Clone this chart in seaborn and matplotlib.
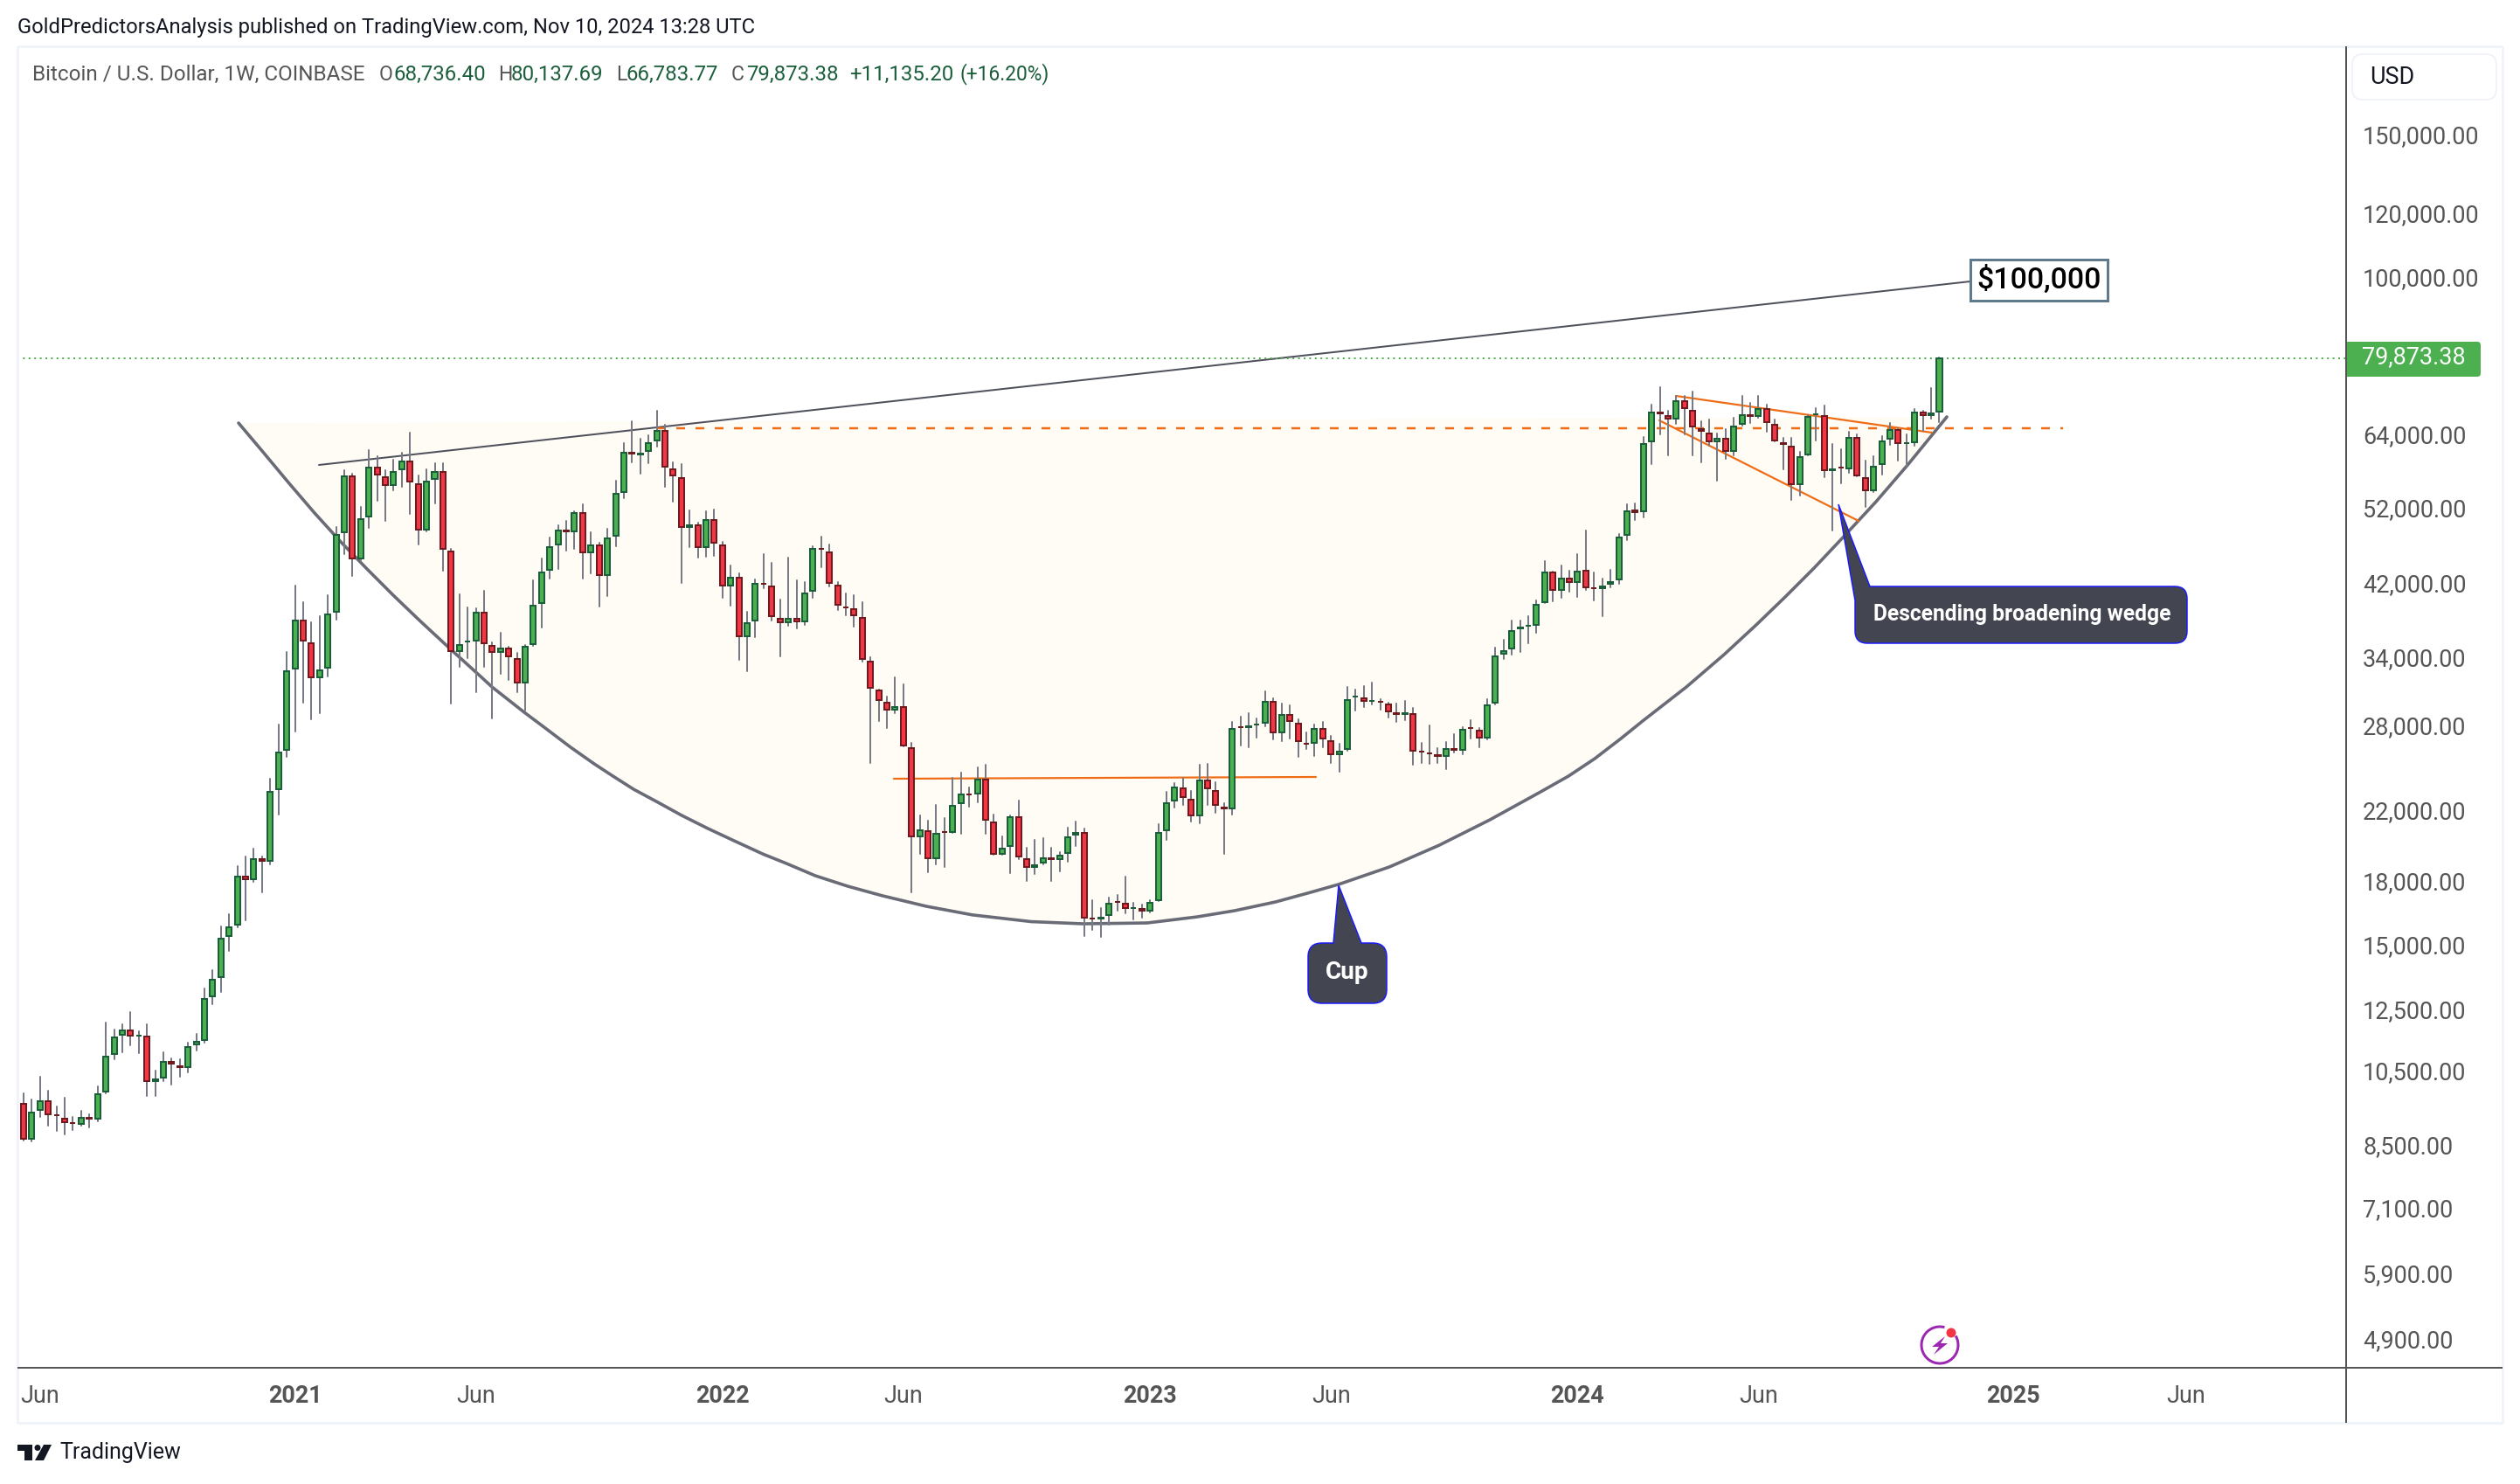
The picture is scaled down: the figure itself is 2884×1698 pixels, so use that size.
"""Bitcoin weekly candles with a cup-and-handle sketch, TradingView look."""
import matplotlib
matplotlib.use("Agg")
import matplotlib.pyplot as plt
import numpy as np
import pandas as pd
import seaborn as sns
from matplotlib.patches import Arc, Circle, FancyBboxPatch, PathPatch, Polygon
from matplotlib.path import Path
from matplotlib.transforms import ScaledTranslation

W, H = 2884, 1698

# ----------------------------------------------------------------------------- data
first_week = "2020-05-11"
candle_dir = (
    "GRGGRRRRGRGGGGRGRGGRRGGGGGGGRGRGGGGRRGGGGRGGRRGGRRGGR"
    "RGGGRRGRRGGGGGRGRGRGGGRGGGRRRGRGRRGRGGRRRGRGGRRRRRRR"
    "RRGRRGRGRGGRGRRGGRRGGRGGGRRGGRRGRGGGGRRGRRRGRGGGRGRRR"
    "GRRGGGRGRRRGRRRRGRGRRGG"
    "GGGGGGRGRGRRGGGGRGGRRGRR"
    "RRGRGGRGRRRRGGGRGRGRRGGGRGGRGG"
)
opens = [
    8712, 9606, 8712, 9450, 9675, 9306, 9204, 9103, 9080, 9230, 9210, 9947, 11070, 11700, 11830, 11660, 11630, 10250, 10350, 10840,
    10690, 10670, 11390, 11520, 13040, 13790, 15500, 15990, 18320, 18210, 19260, 19170, 23500, 26300, 33140, 37970, 35560, 32300, 33180, 38930,
    48830, 57170, 45280, 51040, 58570, 57000, 55840, 58360, 59660, 55880, 49180, 56800, 57900, 46190, 34770, 35760, 35820, 38850, 35320, 34710,
    35060, 34060, 31820, 35470, 39890, 43840, 47110, 49060, 48900, 51560, 46070, 47030, 43190, 48260, 54680, 61200, 60800, 61410, 63320, 65120,
    58330, 56900, 49510, 49760, 46760, 50510, 47000, 41920, 42870, 36300, 37960, 42170, 41820, 38150, 37770, 38150, 37860, 41270, 46570, 46070,
    41920, 39430, 39200, 38240, 33770, 31120, 30050, 29440, 29680, 26410, 20530, 20860, 19310, 20810, 20810, 22590, 23180, 23210, 24150, 21380,
    19560, 20000, 21710, 19270, 18840, 19080, 19310, 19270, 19600, 20650, 20760, 16270, 16270, 16430, 17060, 16970, 16750, 16720, 16640, 17140,
    20910, 22750, 23560, 22810, 21810, 24090, 23380, 22310, 22250, 28050, 28010, 28220, 28380, 30130, 27620, 29030, 28310, 26770, 26810, 27890,
    26940, 25930, 26350, 30590, 30430, 30220, 30100, 29900, 29150, 29070, 29100, 26160, 26030, 25870, 25810, 26350, 26280, 27980, 27760, 27210,
    30050, 34510, 35030, 37090, 37400, 37490, 39960, 43550, 41370, 42800, 42310, 43770, 41610, 41580, 42100, 42620, 48380, 51860, 51780, 63110,
    68610, 67930, 67320, 70860, 68950, 65450, 64640, 63160, 63680, 61460, 66320, 68100, 67880, 69240, 66270, 62850, 62220, 55920, 60850, 68190,
    67880, 58190, 58650, 58480, 63840, 56950, 54960, 59160, 63580, 65230, 62870, 63000, 68550, 68040, 68736.40,
]
highs = [
    9657, 9908, 9740, 10390, 9979, 9548, 9768, 9266, 9426, 9319, 10110, 12100, 11880, 12060, 12470, 11810, 12060, 10550, 11140, 10930,
    10920, 11440, 11710, 13330, 14070, 15930, 16460, 18900, 19420, 19870, 19390, 24220, 28260, 34740, 41880, 40010, 37740, 38450, 40820, 49550,
    58210, 57640, 52460, 61630, 60500, 58210, 59900, 61110, 64690, 57390, 58380, 59390, 59390, 46490, 40890, 39400, 39270, 41300, 35670, 36660,
    35230, 34620, 35380, 42550, 45280, 48060, 49760, 50380, 51780, 52820, 48780, 47310, 49270, 56480, 62850, 66820, 63630, 64270, 68890, 66210,
    59500, 59210, 51910, 50090, 51780, 52030, 47470, 44390, 43410, 38910, 42620, 45840, 44720, 40290, 45390, 42550, 42340, 46880, 48180, 47110,
    42340, 41030, 40790, 39990, 34200, 31220, 30580, 32300, 31660, 26790, 21810, 21490, 22470, 21650, 24270, 24640, 23620, 25010, 25190, 21870,
    20550, 21800, 22750, 19900, 20350, 20450, 19900, 19650, 21070, 21440, 21000, 17140, 16760, 17270, 17400, 18330, 17020, 16930, 17140, 21280,
    23330, 23910, 24270, 23380, 25190, 25260, 23970, 22590, 28450, 28880, 29170, 28740, 31040, 30430, 29980, 29830, 28670, 27620, 28240, 28450,
    27350, 26740, 31430, 31190, 31510, 31820, 30350, 30050, 29980, 30200, 29610, 26810, 28170, 26410, 26870, 27480, 28030, 28600, 27940, 30350,
    35140, 35940, 37960, 37960, 38430, 40190, 44940, 43660, 44390, 43730, 45840, 49020, 43510, 42760, 43840, 48540, 52820, 52950, 63950, 70100,
    73670, 68890, 71810, 71810, 72760, 66820, 67200, 64590, 65340, 67480, 71870, 70450, 71870, 70100, 67200, 63740, 63740, 61300, 68040, 69410,
    69930, 62690, 61760, 64910, 64430, 59800, 60550, 64110, 66540, 65560, 64430, 69240, 68890, 73490, 80137.69,
]
lows = [
    8690, 8653, 8629, 9266, 9032, 8891, 8803, 8916, 9032, 8993, 9135, 9894, 10900, 11120, 11360, 11090, 9824, 9824, 10240, 10140,
    10370, 10520, 11170, 11430, 12770, 13200, 14830, 15860, 16200, 18080, 17550, 18960, 21890, 25790, 27660, 30080, 28700, 29160, 32350, 38010,
    45810, 43030, 45040, 49340, 53290, 50340, 54910, 55460, 51350, 47070, 48850, 52910, 43770, 30000, 33300, 34140, 30990, 33300, 28760, 32650,
    32080, 30990, 29360, 35290, 37240, 42800, 43980, 46340, 46570, 42800, 43440, 39530, 40720, 46920, 53790, 59500, 57660, 59400, 62280, 55550,
    53250, 42270, 46800, 45430, 45540, 45650, 40520, 39630, 33970, 32890, 36210, 41640, 37990, 34310, 37430, 37150, 37520, 40520, 44170, 41850,
    39140, 38560, 37300, 33750, 25340, 28530, 27990, 29170, 26520, 17550, 19570, 18580, 19000, 18860, 20740, 20720, 22380, 22660, 20720, 19490,
    19490, 18530, 19280, 18120, 18480, 18970, 18120, 18620, 19140, 20010, 15500, 15770, 15460, 15980, 16650, 16530, 16230, 16330, 16540, 17090,
    20360, 22330, 22490, 21460, 21350, 22490, 21990, 19570, 21890, 26630, 26500, 27230, 28130, 27100, 26960, 27170, 25780, 26370, 25850, 26480,
    25340, 24720, 26240, 29410, 29710, 29930, 29490, 28830, 28480, 28620, 25210, 25340, 25280, 25340, 24900, 26110, 25980, 27170, 26500, 27100,
    29880, 34030, 34450, 34710, 35580, 36660, 39860, 40090, 40490, 41200, 40590, 41400, 40190, 38430, 41710, 42130, 47700, 50510, 50880, 59210,
    64430, 60700, 66380, 64430, 60700, 59550, 62380, 56530, 60150, 60750, 66100, 66490, 67600, 64960, 63110, 58330, 53520, 54190, 60650, 63370,
    57090, 49020, 56060, 57800, 57180, 52420, 54640, 57470, 62530, 59800, 58770, 62430, 65070, 67430, 66783.77,
]
closes = [
    9606, 8712, 9376, 9675, 9329, 9306, 9132, 9103, 9230, 9210, 9870, 10980, 11600, 11830, 11670, 11660, 10250, 10290, 10840, 10770,
    10670, 11290, 11450, 12940, 13660, 15360, 15870, 18320, 18210, 19260, 19170, 23320, 26060, 32830, 37970, 35840, 32300, 32920, 38620, 48380,
    57170, 45280, 50640, 58570, 57450, 55840, 57900, 59660, 56400, 49180, 56360, 57900, 46520, 34800, 35410, 35760, 38850, 35580, 34710, 35090,
    34280, 31820, 35230, 39630, 43550, 46800, 49060, 48860, 51560, 46070, 47030, 43190, 47980, 54460, 61200, 60950, 61050, 62850, 65120, 58770,
    57330, 49470, 49760, 46760, 50510, 47310, 41920, 42870, 36300, 37670, 42170, 42100, 38400, 37770, 38150, 37860, 40990, 46530, 46490, 42240,
    39690, 39430, 38530, 34030, 31350, 30250, 29440, 29680, 26610, 20530, 20910, 19310, 20700, 20810, 22420, 23150, 23180, 24150, 21540, 19560,
    19850, 21710, 19410, 18840, 18930, 19310, 19270, 19460, 20500, 20760, 16310, 16270, 16310, 16970, 17060, 16760, 16750, 16640, 17020, 20760,
    22590, 23620, 22980, 21810, 24090, 23560, 22470, 22250, 27890, 28050, 28080, 28220, 30130, 27620, 29030, 28530, 26940, 26770, 27890, 27140,
    25960, 26150, 30280, 30590, 30200, 30220, 30100, 29290, 29070, 29150, 26220, 26160, 26030, 25810, 26350, 26260, 27830, 27980, 27210, 29830,
    34280, 34830, 36870, 37180, 37400, 39730, 43550, 41370, 42800, 42310, 43660, 41680, 41610, 41850, 42380, 48100, 51820, 51690, 62740, 68610,
    68330, 67320, 70860, 69350, 65830, 65070, 63110, 63680, 61460, 65940, 68100, 67880, 69240, 66710, 63260, 62690, 55920, 60400, 67760, 68190,
    58190, 58380, 58650, 63840, 57330, 54960, 58770, 63160, 65230, 62850, 62870, 68550, 68040, 68380, 79873.38,
]
last_close = closes[-1]

price_ticks = [150000, 120000, 100000, 64000, 52000, 42000, 34000, 28000, 22000, 18000, 15000, 12500, 10500, 8500, 7100, 5900, 4900]
date_ticks = ["2020-06-01", "2021-01-04", "2021-06-07", "2022-01-03", "2022-06-06", "2023-01-02", "2023-06-05", "2024-01-01", "2024-06-03", "2025-01-06", "2025-06-02"]
date_labels = ["Jun", "2021", "Jun", "2022", "Jun", "2023", "Jun", "2024", "Jun", "2025", "Jun"]

cup_weeks = [
    27.14, 30.01, 33.20, 36.39, 39.57, 42.76, 45.95, 49.14, 52.96, 56.58, 57.96, 61.89, 64.02, 67.52, 70.39, 72.52, 75.18, 78.15,
    81.02, 84.21, 87.40, 90.90, 93.77, 97.28, 101.21, 105.46, 110.77, 116.41, 123.53, 129.90, 137.66, 143.72, 148.29, 153.28, 157.53, 160.93,
    167.10, 173.16, 179.32, 185.49, 188.89, 192.08, 195.27, 197.92, 203.24, 207.81, 211.74, 215.25, 218.76, 222.37, 226.30, 230.13, 234.91,
]
cup_prices = [
    66540, 61460, 56200, 51520, 47470, 43950, 40790, 37980, 34960, 32380, 31430, 29240, 28170, 26480, 25260, 24450, 23500, 22640,
    21820, 21020, 20300, 19550, 19030, 18380, 17840, 17360, 16850, 16440, 16130, 16030, 16070, 16350, 16640, 17060, 17530, 17930,
    18840, 20040, 21540, 23320, 24390, 25630, 27140, 28530, 31430, 34450, 37500, 40590, 44060, 48180, 53210, 59040, 67710,
]
rim_weeks, rim_prices = [36.92, 237.77], [59062, 99504]
neck_weeks, neck_prices = [78.05, 249.03], [65556, 65556]
flat_weeks, flat_prices = [106.84, 158.17], [24212, 24333]
wedge_top_weeks, wedge_top_prices = [201.96, 233.09], [71866, 64747]
wedge_low_weeks, wedge_low_prices = [199.94, 224.17], [67038, 50381]

# ----------------------------------------------------------------------------- style
GREEN, GREEN_EDGE = "#4caf50", "#1b5e3b"
RED, RED_EDGE = "#f23645", "#6f1a1e"
WICK = "#787b86"
ORANGE = "#ef6c14"
TEXT = "#555555"
BORDER = "#f0f3fa"
INK = "#131722"
CALLOUT = "#434651"

sns.set_theme(style="white")
plt.rcParams["font.family"] = ["Roboto", "DejaVu Sans"]


def pt(px):
    """Pixels at 100 dpi to points."""
    return px * 0.72


def draw_line(ax, xs, ys, color, width_px, zorder=2, **kws):
    sns.lineplot(x=xs, y=ys, estimator=None, sort=False, color=color,
                 linewidth=pt(width_px), legend=False, zorder=zorder, ax=ax, **kws)


def rounded_path(vertices):
    """Closed path through (x, y, radius) corners."""
    verts, codes = [], []
    n = len(vertices)
    for i, (x, y, r) in enumerate(vertices):
        if r == 0:
            verts.append((x, y))
            codes.append(Path.LINETO)
            continue
        px0, py0, _ = vertices[i - 1]
        nx, ny, _ = vertices[(i + 1) % n]
        d0, d1 = np.hypot(px0 - x, py0 - y), np.hypot(nx - x, ny - y)
        verts += [(x + (px0 - x) * r / d0, y + (py0 - y) * r / d0), (x, y), (x + (nx - x) * r / d1, y + (ny - y) * r / d1)]
        codes += [Path.LINETO, Path.CURVE3, Path.CURVE3]
    codes[0] = Path.MOVETO
    verts.append(verts[0])
    codes.append(Path.CLOSEPOLY)
    return Path(verts, codes)


fig = plt.figure(figsize=(W / 100, H / 100), dpi=100, facecolor="white")
ax = fig.add_axes([20 / W, 1 - 1565 / H, (2685 - 20) / W, (1565 - 53) / H], zorder=1)
ax.set_yscale("log")

# ----------------------------------------------------------------------------- candles
weeks = np.arange(len(closes))
wicks = pd.DataFrame({
    "week": np.repeat(weeks, 2),
    "price": np.column_stack([lows, highs]).ravel(),
    "candle": np.repeat(weeks, 2),
})
ax.fill(cup_weeks, cup_prices, color="#fffcf5", lw=0, zorder=1)
draw_line(ax, cup_weeks, cup_prices, "#696b76", 3.6)
draw_line(ax, rim_weeks, rim_prices, "#4f515c", 2)
draw_line(ax, neck_weeks, neck_prices, ORANGE, 2.5, linestyle=(0, (4, 4.8)))
draw_line(ax, flat_weeks, flat_prices, ORANGE, 2.2)
draw_line(ax, wedge_top_weeks, wedge_top_prices, ORANGE, 2.2)
draw_line(ax, wedge_low_weeks, wedge_low_prices, ORANGE, 2.2)
ax.axhline(last_close, color=GREEN, lw=pt(2), linestyle=(0, (1, 2.2)), zorder=2)

sns.lineplot(data=wicks, x="week", y="price", units="candle", estimator=None, sort=False,
             color=WICK, linewidth=pt(2), legend=False, zorder=3, ax=ax)
tops = np.maximum(opens, closes)
bottoms = np.minimum(opens, closes)
is_up = np.array(list(candle_dir)) == "G"
ax.bar(weeks, tops - bottoms, bottom=bottoms, width=0.64,
       color=np.where(is_up, GREEN, RED), edgecolor=np.where(is_up, GREEN_EDGE, RED_EDGE),
       linewidth=pt(2), zorder=4)

# ----------------------------------------------------------------------------- axes
ax.set_xlim(0.255, 283.47)
ax.set_ylim(4539, 194100)
ax.yaxis.tick_right()
ax.set_yticks(price_ticks, [f"{p:,.2f}" for p in price_ticks])
ax.minorticks_off()
start = pd.Timestamp(first_week)
ax.set_xticks((pd.to_datetime(date_ticks) - start).days / 7, date_labels)
ax.tick_params(axis="y", length=0, pad=13.7, labelsize=pt(27), labelcolor=TEXT)
ax.tick_params(axis="x", length=0, pad=14, labelsize=pt(27), labelcolor=TEXT)
raise_labels = ScaledTranslation(0, pt(3) / 72, fig.dpi_scale_trans)
for label in ax.get_yticklabels():
    label.set_transform(label.get_transform() + raise_labels)
for label in ax.get_xticklabels():
    if label.get_text() != "Jun":
        label.set_fontweight("bold")
ax.set_xlabel("")
ax.set_ylabel("")
sns.despine(ax=ax, left=True, bottom=True, right=True, top=True)

# ----------------------------------------------------------------------------- overlay in pixels
ov = fig.add_axes([0, 0, 1, 1], zorder=2)
ov.set_xlim(0, W)
ov.set_ylim(H, 0)
ov.axis("off")
ov.patch.set_alpha(0)

for xs, ys in [([20, 20], [53, 1628]), ([2864, 2864], [53, 1628]), ([20, 2864], [53, 53]), ([20, 2864], [1628, 1628])]:
    ov.plot(xs, ys, color=BORDER, lw=pt(3), solid_capstyle="butt")
ov.plot([2685, 2685], [53, 1628], color=TEXT, lw=pt(2), solid_capstyle="butt")
ov.plot([20, 2864], [1565, 1565], color=TEXT, lw=pt(2), solid_capstyle="butt")

# header
ov.text(20, 31, "GoldPredictorsAnalysis published on TradingView.com, Nov 10, 2024 13:28 UTC",
        fontsize=pt(23.7), color=INK, va="center")
ov.text(37, 85, "Bitcoin / U.S. Dollar, 1W, COINBASE", fontsize=pt(24.2), color=TEXT, va="center")
for x, letter in [(434, "O"), (570, "H"), (705, "L"), (837, "C")]:
    ov.text(x, 85, letter, fontsize=pt(23), color=TEXT, va="center")
for x, value, size in [(450, "68,736.40", 24), (585, "80,137.69", 24), (717, "66,783.77", 24), (854, "79,873.38", 24),
                       (972, "+11,135.20", 24), (1099, "(+16.20%)", 22.7)]:
    ov.text(x, 85, value, fontsize=pt(size), color=GREEN_EDGE, va="center")

# USD box
ov.add_patch(FancyBboxPatch((2692, 62), 165, 52, boxstyle="round,pad=0,rounding_size=12",
                            fc="white", ec=BORDER, lw=pt(2)))
ov.text(2712, 88, "USD", fontsize=pt(27), color=INK, va="center")

# last price tag
ov.add_patch(PathPatch(rounded_path([(2685, 391, 0), (2839, 391, 4), (2839, 431, 4), (2685, 431, 0)]), fc=GREEN, ec="none"))
ov.text(2703, 409, "79,873.38", fontsize=pt(27), color="white", va="center")

# $100,000 label
ov.add_patch(plt.Rectangle((2255, 297), 157, 47, fc="white", ec="#5f7a8c", lw=pt(3)))
ov.text(2334, 320, "$100,000", fontsize=pt(34), color="black", ha="center", va="center", fontweight="medium")

# callouts
for verts in ([(1497, 1079, 16), (1526, 1079, 0), (1532, 1013, 0), (1558, 1079, 0), (1587, 1079, 16), (1587, 1148, 16), (1497, 1148, 16)],
              [(2123, 687, 0), (2104, 577, 0), (2140, 671, 0), (2503, 671, 14), (2503, 736, 14), (2123, 736, 14)]):
    ov.add_patch(PathPatch(rounded_path(verts), fc=CALLOUT, ec="#1a1aff", lw=pt(1.5)))
ov.text(1542, 1113, "Cup", fontsize=pt(28), color="white", ha="center", va="center", fontweight="bold")
ov.text(2314, 703, "Descending broadening wedge", fontsize=pt(24.6), color="white", ha="center", va="center", fontweight="bold")

# lightning icon
ov.add_patch(Arc((2220, 1539), 42, 42, theta1=-30, theta2=285, color="#9c27b0", lw=pt(3)))
ov.add_patch(Polygon([(2226, 1529), (2211, 1541), (2219, 1541), (2213, 1550), (2229, 1537), (2221, 1537)], fc="#9c27b0", ec="none"))
ov.add_patch(Circle((2233, 1525), 5.5, fc="#f23645", ec="none"))

# footer logo
ov.add_patch(Polygon([(20, 1653), (37, 1653), (37, 1671), (28, 1671), (28, 1660), (20, 1660)], fc=INK, ec="none"))
ov.add_patch(Circle((43, 1656.5), 3.5, fc=INK, ec="none"))
ov.add_patch(Polygon([(50, 1653), (59, 1653), (50, 1671), (40, 1671)], fc=INK, ec="none"))
ov.text(68, 1662, "TradingView", fontsize=pt(25), color=INK, va="center")

fig.savefig("out.png", dpi=100)
